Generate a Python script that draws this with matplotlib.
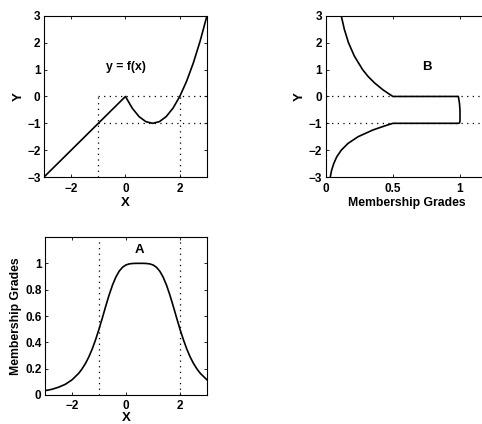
import matplotlib
matplotlib.use('Agg')
from matplotlib import pyplot as plt

# f(x): linear for x<0, parabola for x>=0
fx_x = [-3, 0, 0.25, 0.5, 0.75, 1, 1.25, 1.5, 1.75, 2, 2.25, 2.5, 2.75, 3]
fx_y = [-3, 0, -0.4375, -0.75, -0.9375, -1, -0.9375, -0.75, -0.4375, 0, 0.5625, 1.25, 2.0625, 3]

# membership function A (bottom panel)
a_x = [-3, -2.75, -2.5, -2.25, -2, -1.75, -1.625, -1.5, -1.375, -1.25, -1.125, -1, -0.875, -0.75,
       -0.625, -0.5, -0.375, -0.25, -0.125, 0, 0.125, 0.25, 0.375, 0.5, 0.625, 0.75, 0.875, 1,
       1.125, 1.25, 1.375, 1.5, 1.625, 1.75, 1.875, 2, 2.125, 2.25, 2.375, 2.5, 2.625, 2.75, 3]
a_mu = [0.033, 0.043, 0.059, 0.081, 0.115, 0.165, 0.199, 0.240, 0.290, 0.350, 0.421, 0.500, 0.586, 0.675,
        0.760, 0.835, 0.896, 0.941, 0.971, 0.988, 0.996, 0.999, 1.0, 1.0, 1.0, 0.999, 0.996, 0.988,
        0.971, 0.941, 0.896, 0.835, 0.760, 0.675, 0.586, 0.500, 0.421, 0.350, 0.290, 0.240, 0.199, 0.165, 0.115]

# induced membership function B (top-right panel), traced from y=3 down to y=-3
b_y = [3, 2.5, 2, 1.5, 1, 0.75, 0.5, 0.25, 0.1, 0, 0, -0.25, -0.5, -0.75, -0.9, -0.95, -0.99, -1,
       -1, -1.1, -1.25, -1.5, -1.75, -2, -2.25, -2.5, -2.75, -3]
b_mu = [0.115, 0.138, 0.169, 0.213, 0.274, 0.314, 0.364, 0.425, 0.469, 0.5, 0.988, 0.996, 1.0, 1.0,
        1.0, 0.999, 0.995, 0.988, 0.5, 0.437, 0.350, 0.240, 0.165, 0.115, 0.081, 0.059, 0.043, 0.033]

x_lo, x_hi = -1, 2
y_lo, y_hi = -1, 0

plt.rcParams['font.family'] = ['Liberation Sans', 'DejaVu Sans']
plt.rcParams['font.weight'] = 'bold'
plt.rcParams['font.size'] = 8.8
plt.rcParams['axes.labelweight'] = 'bold'
plt.rcParams['xtick.labelsize'] = 8.5
plt.rcParams['ytick.labelsize'] = 8.5

fig = plt.figure(figsize=(4.82, 4.24), dpi=100)
dots = (0, (1, 3.5))

def style(ax, xpad=4.5):
    ax.tick_params(direction='in', top=True, right=True, length=2.5, width=0.6)
    ax.tick_params(axis='x', pad=xpad)
    ax.tick_params(axis='y', pad=2.5)
    for s in ax.spines.values():
        s.set_linewidth(0.8)

ax1 = fig.add_axes([0.0913, 0.5825, 0.338, 0.380])
ax1.plot(fx_x, fx_y, color='black', lw=1.2)
ax1.plot([x_lo, x_lo], [-3, y_hi], color='black', ls=dots, lw=0.9)
ax1.plot([x_hi, x_hi], [-3, y_hi], color='black', ls=dots, lw=0.9)
ax1.plot([x_lo, 3], [y_hi, y_hi], color='black', ls=dots, lw=0.9)
ax1.plot([x_lo, 3], [y_lo, y_lo], color='black', ls=dots, lw=0.9)
ax1.set_xlim(-3, 3)
ax1.set_ylim(-3, 3)
ax1.set_xticks([-2, 0, 2])
ax1.set_yticks([-3, -2, -1, 0, 1, 2, 3])
ax1.set_xlabel('X', labelpad=1, fontsize=9.5)
ax1.set_ylabel('Y', labelpad=2, fontsize=9.5)
ax1.text(0, 1.1, 'y = f(x)', ha='center', va='center')
style(ax1)

ax2 = fig.add_axes([0.676, 0.5825, 0.334, 0.380])
ax2.plot(b_mu, b_y, color='black', lw=1.2)
ax2.axhline(y_hi, color='black', ls=dots, lw=0.9)
ax2.axhline(y_lo, color='black', ls=dots, lw=0.9)
ax2.set_xlim(0, 1.2)
ax2.set_ylim(-3, 3)
ax2.set_xticks([0, 0.5, 1])
ax2.set_xticklabels(['0', '0.5', '1'])
ax2.set_yticks([-3, -2, -1, 0, 1, 2, 3])
ax2.set_xlabel('Membership Grades', labelpad=1)
ax2.set_ylabel('Y', labelpad=2, fontsize=9.5)
ax2.text(0.75, 1.1, 'B', ha='center', va='center', fontsize=9.5)
style(ax2)

ax3 = fig.add_axes([0.0934, 0.0684, 0.336, 0.3726])
ax3.plot(a_x, a_mu, color='black', lw=1.2)
ax3.axvline(x_lo, color='black', ls=dots, lw=0.9)
ax3.axvline(x_hi, color='black', ls=dots, lw=0.9)
ax3.set_xlim(-3, 3)
ax3.set_ylim(0, 1.2)
ax3.set_xticks([-2, 0, 2])
ax3.set_yticks([0, 0.2, 0.4, 0.6, 0.8, 1])
ax3.set_yticklabels(['0', '0.2', '0.4', '0.6', '0.8', '1'])
ax3.set_xlabel('X', labelpad=0, fontsize=9.5)
ax3.set_ylabel('Membership Grades', labelpad=2)
ax3.text(0.5, 1.1, 'A', ha='center', va='center', fontsize=9.5)
style(ax3, xpad=3.5)

fig.savefig('out.png', dpi=100)
